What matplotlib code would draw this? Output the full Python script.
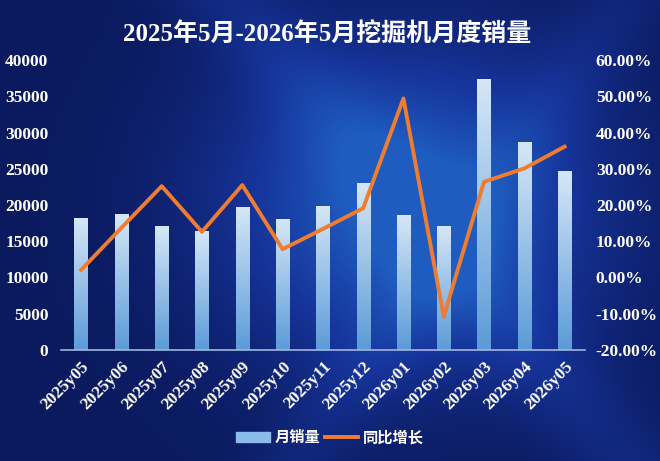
import numpy as np
import matplotlib
matplotlib.use("Agg")
import matplotlib.pyplot as plt
from matplotlib.colors import LinearSegmentedColormap
from matplotlib.patches import Rectangle
from matplotlib.lines import Line2D

months = ["2025y05", "2025y06", "2025y07", "2025y08", "2025y09", "2025y10", "2025y11",
          "2025y12", "2026y01", "2026y02", "2026y03", "2026y04", "2026y05"]
sales = [18160, 18760, 17100, 16410, 19770, 18020, 19910,
         22990, 18620, 17100, 37330, 28690, 24690]
growth = [2.1, 13.7, 25.2, 12.6, 25.5, 7.8, 13.4,
          19.1, 49.4, -10.8, 26.4, 30.1, 36.1]

plt.rcParams['font.family'] = ['Liberation Serif', 'Noto Sans CJK SC', 'DejaVu Sans']
plt.rcParams['font.weight'] = 'bold'

fig = plt.figure(figsize=(6.6, 4.61), dpi=100)

# background
bg = fig.add_axes([0, 0, 1, 1])
yy, xx = np.mgrid[0:1:300j, 0:1:400j]
glow = np.exp(-((xx - 0.62) ** 2 / 0.08 + (yy - 0.45) ** 2 / 0.12))
streak = 0.25 * np.exp(-((xx - 0.35 - 0.6 * yy) ** 2) / 0.01)
streak2 = 0.18 * np.exp(-((xx - 0.95 + 0.5 * yy) ** 2) / 0.006)
val = np.clip(glow + streak + streak2, 0, 1)
bg_cmap = LinearSegmentedColormap.from_list("bg", ["#0b1a5e", "#16349a", "#1f5cc0"])
bg.imshow(val, cmap=bg_cmap, aspect='auto', extent=[0, 1, 0, 1], origin='upper')
bg.set_axis_off()

ax = fig.add_axes([0.0924, 0.2408, 0.7936, 0.629])
ax.patch.set_alpha(0)
x = np.arange(len(months))
bars = ax.bar(x, sales, width=0.33, color='none', zorder=2)

grad_cmap = LinearSegmentedColormap.from_list("bar", ["#5b9bd8", "#d6e7f7"])
grad = np.linspace(0, 1, 256).reshape(-1, 1)
for b in bars:
    im = ax.imshow(grad, cmap=grad_cmap, aspect='auto', origin='lower', zorder=2,
                   extent=[b.get_x(), b.get_x() + b.get_width(), 0, b.get_height()])
    im.set_clip_path(b)

ax.set_xlim(-0.5, len(months) - 0.5)
ax.set_ylim(0, 40000)
ax.set_yticks(range(0, 40001, 5000))
ax.set_xticks(x)
ax.set_xticklabels(months, rotation=45, ha='right', rotation_mode='anchor')
ax.tick_params(colors='white', labelsize=12.5, length=0)
ax.tick_params(axis='y', pad=9)
ax.tick_params(axis='x', pad=6)
for s in ['top', 'right', 'left']:
    ax.spines[s].set_visible(False)
ax.spines['bottom'].set_color('#9fb6e0')
ax.spines['bottom'].set_linewidth(1.2)

ax2 = ax.twinx()
ax2.plot(x, growth, color='#ee7d31', linewidth=2.8, zorder=3)
ax2.set_ylim(-20, 60)
ax2.set_yticks(range(-20, 61, 10))
ax2.set_yticklabels([f"{v:.2f}%" for v in range(-20, 61, 10)])
ax2.tick_params(colors='white', labelsize=12.5, length=0, pad=8)
for s in ax2.spines.values():
    s.set_visible(False)

fig.text(0.495, 0.925, "2025年5月-2026年5月挖掘机月度销量", color='white',
         fontsize=18, fontweight='bold', ha='center', va='center')

handles = [Rectangle((0, 0), 1, 1, color='#8bbbe8'),
           Line2D([0], [0], color='#ee7d31', linewidth=2.8)]
leg = fig.legend(handles, ["月销量", "同比增长"], loc='center', bbox_to_anchor=(0.5, 0.05),
                 ncol=2, frameon=False, fontsize=11, handlelength=2.2,
                 columnspacing=0.3, handletextpad=0.3)
for t in leg.get_texts():
    t.set_color('white')

fig.savefig("out.png", dpi=100)
